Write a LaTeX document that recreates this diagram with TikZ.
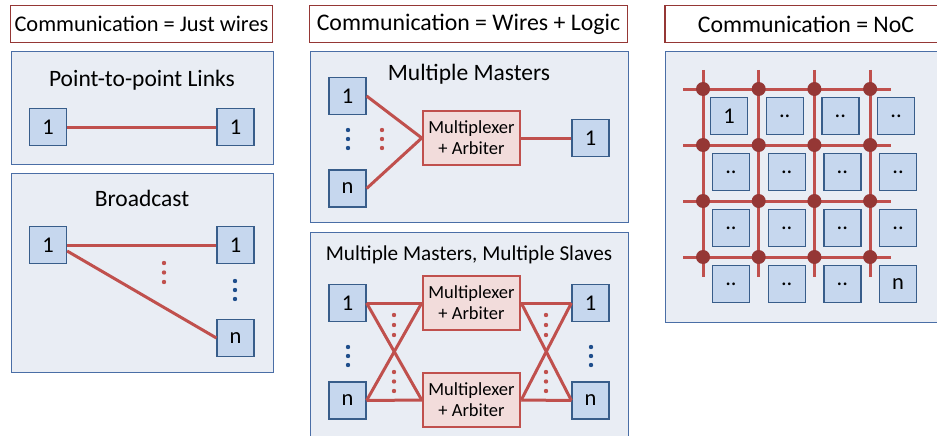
\documentclass[tikz,border=0pt]{standalone}
\usepackage{fontspec}
\setmainfont{Carlito}
\definecolor{panelfill}{HTML}{E9EDF4}
\definecolor{panelline}{HTML}{4A6EA6}
\definecolor{unitfill}{HTML}{C6D7EE}
\definecolor{unitline}{HTML}{385D8A}
\definecolor{wirecol}{HTML}{C0504D}
\definecolor{hdrline}{HTML}{953735}
\definecolor{muxfill}{HTML}{F2DCDB}
\definecolor{routercol}{HTML}{953735}
\definecolor{bluedot}{HTML}{1F4E8C}
\tikzset{
  panel/.style={draw=panelline, fill=panelfill, line width=1pt},
  header/.style={draw=hdrline, fill=white, line width=1.6pt, inner sep=0pt,
    minimum height=37pt, font=\fontsize{23.8}{26}\selectfont},
  title/.style={font=\fontsize{23.5}{26}\selectfont, inner sep=0pt},
  unit/.style={draw=unitline, fill=unitfill, line width=1.2pt, inner sep=0pt,
    minimum width=37pt, minimum height=37pt, font=\fontsize{22.5}{24}\selectfont},
  mux/.style={draw=wirecol, fill=muxfill, line width=2.5pt, inner sep=0pt,
    minimum width=97pt, minimum height=54pt, align=center,
    font=\fontsize{18.5}{21}\selectfont},
  wire/.style={draw=wirecol, line width=3pt},
  gridwire/.style={draw=wirecol, line width=3pt},
  router/.style={fill=routercol},
  rdot/.style={fill=wirecol},
  bdot/.style={fill=bluedot},
}
\begin{document}
\begin{tikzpicture}[x=1pt,y=-1pt]
\useasboundingbox (0,0) rectangle (937,436);

% ---------- column 1: just wires ----------
\node[header, minimum width=262pt, font=\fontsize{22.4}{24}\selectfont] (h1) at (141.5,24) {Communication = Just wires};

\draw[panel] (11,52) rectangle (273,164);
\node[title] (t1) at (142,80) {Point-to-point Links};
\node[unit] (p1) at (48,127) {1};
\node[unit] (p2) at (235.5,127) {1};
\draw[wire] (p1.east) -- (p2.west);

\draw[panel] (11,173) rectangle (273,372);
\node[title] (t2) at (142,198) {Broadcast};
\node[unit] (b0) at (48,245) {1};
\node[unit] (b1) at (235.5,245) {1};
\node[unit] (bn) at (235.5,338) {n};
\draw[wire] (b0.east) -- (b1.west);
\draw[wire] ([yshift=-6pt]b0.east) -- (bn.west);
\foreach \y in {263,272.5,282} \fill[rdot] (164,\y) circle (2.2);
\foreach \y in {281,290,299} \fill[bdot] (235,\y) circle (2.2);

% ---------- column 2: wires + logic ----------
\node[header, minimum width=318pt] (h2) at (468.5,24) {Communication = Wires + Logic};

\draw[panel] (310,52) rectangle (628,222);
\node[title] (t3) at (469,74) {Multiple Masters};
\node[unit] (m1) at (347.5,96) {1};
\node[unit] (mn) at (347.5,188.5) {n};
\node[mux] (mx) at (471.5,138) {Multiplexer\\+ Arbiter};
\node[unit] (s1) at (590.5,138) {1};
\draw[wire] (m1.east) -- (mx.west);
\draw[wire] (mn.east) -- (mx.west);
\draw[wire] (mx.east) -- (s1.west);
\foreach \y in {130,139,148} {
  \fill[bdot] (348,\y) circle (2.2);
  \fill[rdot] (382,\y) circle (2.2);
}

\draw[panel] (310,232) rectangle (628,446);
\node[title, font=\fontsize{21.2}{24}\selectfont] (t4) at (469,255) {Multiple Masters, Multiple Slaves};
\node[unit] (l1) at (347.5,303) {1};
\node[unit] (ln) at (347.5,400.5) {n};
\node[mux] (x1) at (471.5,303) {Multiplexer\\+ Arbiter};
\node[mux] (x2) at (471.5,400) {Multiplexer\\+ Arbiter};
\node[unit] (r1) at (590.5,303) {1};
\node[unit] (rn) at (590.5,400.5) {n};
\draw[wire] (l1.east) -- (x1.west);
\draw[wire] (l1.east) -- (x2.west);
\draw[wire] (ln.east) -- (x2.west);
\draw[wire] (ln.east) -- (x1.west);
\draw[wire] (x1.east) -- (r1.west);
\draw[wire] (x1.east) -- (rn.west);
\draw[wire] (x2.east) -- (rn.west);
\draw[wire] (x2.east) -- (r1.west);
\foreach \y in {315,325,335,372,381.5,391} {
  \fill[rdot] (394,\y) circle (2.2);
  \fill[rdot] (546,\y) circle (2.2);
}
\foreach \y in {347,356,365} {
  \fill[bdot] (348,\y) circle (2.2);
  \fill[bdot] (591,\y) circle (2.2);
}

% ---------- column 3: network on chip ----------
\node[header, minimum width=282pt] (h3) at (806,24) {Communication = NoC};
\draw[panel] (665,52) rectangle (947,322);

% mesh links
\foreach \i in {0,1,2,3} {
  \draw[gridwire] (703+55.7*\i,70) -- (703+55.7*\i,277);
  \draw[gridwire] (683,89+56*\i) -- (891,89+56*\i);
}
% routers
\foreach \i in {0,1,2,3}
  \foreach \j in {0,1,2,3}
    \fill[router] (703+55.7*\i,89+56*\j) circle (7);
% processing tiles
\foreach \i in {0,1,2,3}
  \foreach \j in {0,1,2,3} {
    \pgfmathsetmacro{\dx}{\j==0 ? 26 : 28}
    \ifnum\i=0 \ifnum\j=0 \def\tl{1}\else\def\tl{..}\fi
    \else \ifnum\i=3 \ifnum\j=3 \def\tl{n}\else\def\tl{..}\fi \else\def\tl{..}\fi\fi
    \node[unit] (tile-\i-\j) at (703+55.7*\i+\dx,89+56*\j+27) {\tl};
  }
\end{tikzpicture}
\end{document}
